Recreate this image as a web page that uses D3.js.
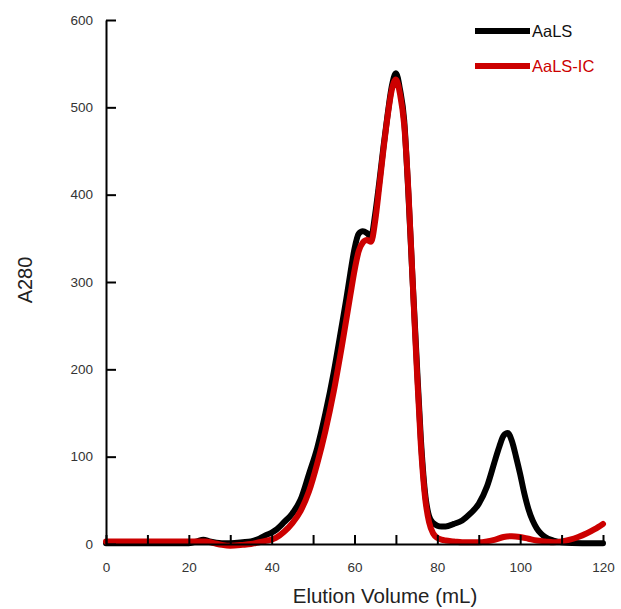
<!DOCTYPE html>
<html><head><meta charset="utf-8">
<script src="https://cdn.jsdelivr.net/npm/d3@7"></script>
<style>body{margin:0;background:#fff}svg{display:block}text{font-family:"Liberation Sans",Arial,sans-serif}</style>
</head><body><svg id="c" width="621" height="609"></svg>
<script>
const seriesNames = ["AaLS", "AaLS-IC"];
const aalsX = [0,5,10,15,20,22,23.5,25,28,30,33,35,37,39,40,41,43,45,47,49,51,53,55,57,58,59,60,61,62,63,64,65,66,67,68,69,70,71,72,73,74,75,76,77,78,79,80,81,82,84,86,88,90,92,94,95,96,97,98,99,100,101,102,103,104,105,106,108,110,115,120];
const aalsY = [1,1,1,1,1,3,5,3,1,1,2,3,6,11,13,16,25,35,51,80,110,150,197,252,280,310,338,355,358,356,352,378,415,455,492,524,539,520,485,402,305,212,122,60,32,24,21,20,20,23,27,35,46,66,97,112,124,127,118,100,80,58,40,27,18,12,8,4,2,1,1];
const icX = [0,5,10,15,20,22,24,26,28,30,33,35,37,39,40,41,43,45,47,49,51,53,55,57,59,60,61,62,63,64,65,66,67,68,69,70,71,72,73,74,75,76,77,78,79,80,81,82,84,86,88,90,92,94,96,98,100,102,104,106,108,110,112,114,116,118,120];
const icY = [3,3,3,3,3,3,3,1,-1,-2,-1,0,2,4,5,7,14,24,38,60,92,130,175,228,285,313,335,345,348,346,370,410,452,490,520,532,515,480,405,305,205,115,55,25,12,7,5,4,3,2,2,2,3,5,8,9,8,6,4,3,2,3,5,8,12,17,23];
const xTicks = d3.range(0, 121, 10);
const xLabels = [0,20,40,60,80,100,120];
const yTicks = [0,100,200,300,400,500,600];

const svg = d3.select("#c");
const x = d3.scaleLinear().domain([0,120]).range([106,603]);
const y = d3.scaleLinear().domain([0,600]).range([544,20]);

const line = d3.line().x(d=>x(d[0])).y(d=>y(d[1])).curve(d3.curveMonotoneX);
const dA = aalsX.map((v,i)=>[v,aalsY[i]]);
const dI = icX.map((v,i)=>[v,icY[i]]);
const colors = ["#000000","#cc0000"];

svg.append("path").attr("d", line(dA)).attr("fill","none").attr("stroke",colors[0]).attr("stroke-width",6).attr("stroke-linejoin","round").attr("stroke-linecap","round");
svg.append("path").attr("d", line(dI)).attr("fill","none").attr("stroke",colors[1]).attr("stroke-width",6).attr("stroke-linejoin","round").attr("stroke-linecap","round");

// axes
const xAxis = svg.append("g").attr("transform","translate(0,544)")
  .call(d3.axisBottom(x).tickValues(xTicks).tickSizeInner(-9).tickSizeOuter(0).tickFormat(d=>xLabels.includes(d)?d:""));
xAxis.select(".domain").attr("stroke","#000").attr("stroke-width",2);
xAxis.selectAll(".tick line").attr("stroke","#000").attr("stroke-width",2);
xAxis.selectAll(".tick text").attr("y",18).attr("font-size",13.5).attr("fill","#333").attr("font-family","Liberation Sans, Arial, sans-serif");

const yAxis = svg.append("g").attr("transform","translate(106,0)")
  .call(d3.axisLeft(y).tickValues(yTicks).tickSizeInner(-10).tickSizeOuter(0));
yAxis.select(".domain").attr("stroke","#000").attr("stroke-width",2);
yAxis.selectAll(".tick line").attr("stroke","#000").attr("stroke-width",2);
yAxis.selectAll(".tick text").attr("x",-13).attr("font-size",13.5).attr("fill","#333").attr("font-family","Liberation Sans, Arial, sans-serif");

svg.append("text").attr("x",385).attr("y",603).attr("text-anchor","middle").attr("font-size",20.5).attr("fill","#222").text("Elution Volume (mL)");
svg.append("text").attr("transform","translate(32,280) rotate(-90)").attr("text-anchor","middle").attr("font-size",20).attr("fill","#222").text("A280");

// legend
const leg = svg.append("g");
seriesNames.forEach((n,i)=>{
  const yy = 31 + i*35;
  leg.append("line").attr("x1",475).attr("x2",530).attr("y1",yy).attr("y2",yy).attr("stroke",colors[i]).attr("stroke-width",6);
  leg.append("text").attr("x",532).attr("y",yy+5.7).attr("font-size",16.5).attr("fill",i===0?"#111":colors[i]).text(n);
});
</script></body></html>
